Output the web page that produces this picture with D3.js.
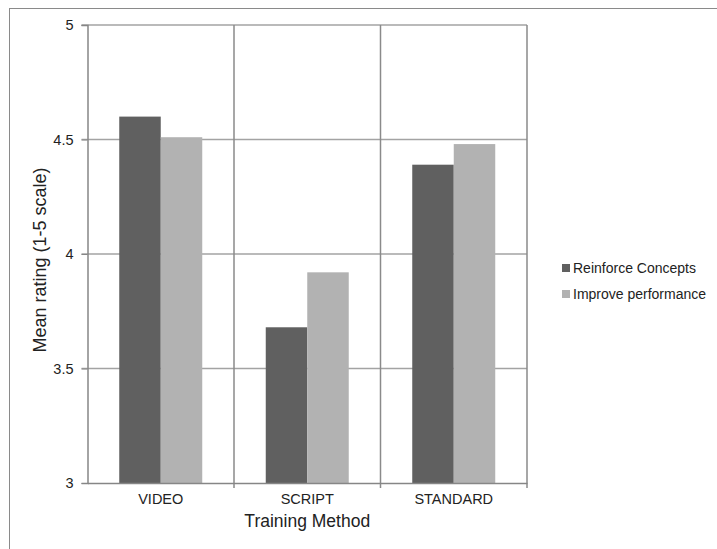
<!DOCTYPE html>
<html><head><meta charset="utf-8">
<script src="https://cdn.jsdelivr.net/npm/d3@7"></script>
<style>body{margin:0;background:#fff}svg{display:block}text{font-family:"Liberation Sans",Arial,sans-serif;fill:#222}</style>
</head><body>
<script>
const categories = ["VIDEO", "SCRIPT", "STANDARD"];
const seriesNames = ["Reinforce Concepts", "Improve performance"];
const reinforce = [4.60, 3.68, 4.39];
const improve = [4.51, 3.92, 4.48];
const yTicks = [3, 3.5, 4, 4.5, 5];
const colors = ["#606060", "#b2b2b2"];

(function () {
const W = 717, H = 549;
const FONT = '"Liberation Sans",Arial,sans-serif';
const svg = d3.select("body").append("svg").attr("width", W).attr("height", H);
svg.append("rect").attr("x", 9.5).attr("y", 8.5).attr("width", 720).attr("height", 560)
  .attr("fill", "none").attr("stroke", "#8a8a8a").attr("stroke-width", 1);

const pL = 87.5, pR = 527, pT = 25, pB = 483;
const x = d3.scaleBand().domain(categories).range([pL, pR]).paddingInner(0).paddingOuter(0);
const y = d3.scaleLinear().domain([3, 5]).range([pB, pT]);
const inner = d3.scaleBand().domain(seriesNames).range([0, x.bandwidth()]).paddingInner(0).paddingOuter(0.765);

// horizontal gridlines
svg.append("g").selectAll("line").data(yTicks.filter(t => t > 3)).join("line")
  .attr("x1", pL - 6).attr("x2", pR).attr("y1", d => y(d)).attr("y2", d => y(d))
  .attr("stroke", "#a3a3a3").attr("stroke-width", 1.5);
// vertical gridlines
const vx = categories.slice(1).map(c => x(c)).concat([pR]);
svg.append("g").selectAll("line").data(vx).join("line")
  .attr("x1", d => d).attr("x2", d => d)
  .attr("y1", pT).attr("y2", pB + 5)
  .attr("stroke", "#8a8a8a").attr("stroke-width", 1.5);

const data = categories.map((c, i) => ({c, vals: [reinforce[i], improve[i]]}));
const groups = svg.append("g").selectAll("g").data(data).join("g")
  .attr("transform", d => `translate(${x(d.c)},0)`);
groups.selectAll("rect").data(d => d.vals.map((v, j) => ({v, j}))).join("rect")
  .attr("x", d => inner(seriesNames[d.j])).attr("width", inner.bandwidth())
  .attr("y", d => y(d.v)).attr("height", d => y(3) - y(d.v))
  .attr("fill", d => colors[d.j]);

// axes
const yAxis = svg.append("g").attr("transform", `translate(${pL},0)`)
  .call(d3.axisLeft(y).tickValues(yTicks).tickSize(6).tickPadding(8).tickFormat(d3.format("")));
yAxis.select(".domain").attr("stroke", "#868686").attr("stroke-width", 1.5);
yAxis.selectAll(".tick line").attr("stroke", "#868686");
yAxis.selectAll("text").attr("font-size", 14.5).style("font-family", FONT).attr("fill", "#222");

const xAxis = svg.append("g").attr("transform", `translate(0,${pB})`)
  .call(d3.axisBottom(x).tickSize(0).tickPadding(11));
xAxis.select(".domain").attr("stroke", "#868686").attr("stroke-width", 1.5);
xAxis.selectAll("text").attr("font-size", 14.5).style("font-family", FONT).attr("fill", "#222");

svg.append("text").attr("x", (pL + pR) / 2).attr("y", 527).attr("text-anchor", "middle")
  .attr("font-size", 17.5).text("Training Method");
svg.append("text").attr("transform", `translate(46,260) rotate(-90)`)
  .attr("text-anchor", "middle").attr("font-size", 18).text("Mean rating (1-5 scale)");

// legend
const leg = svg.append("g").selectAll("g").data(seriesNames).join("g")
  .attr("transform", (d, i) => `translate(562,${268 + i * 26})`);
leg.append("rect").attr("x", 0).attr("y", -4).attr("width", 8).attr("height", 8).attr("fill", (d, i) => colors[i]);
leg.append("text").attr("x", 11).attr("y", 5).attr("font-size", 14).text(d => d);
})();
</script>
</body></html>
